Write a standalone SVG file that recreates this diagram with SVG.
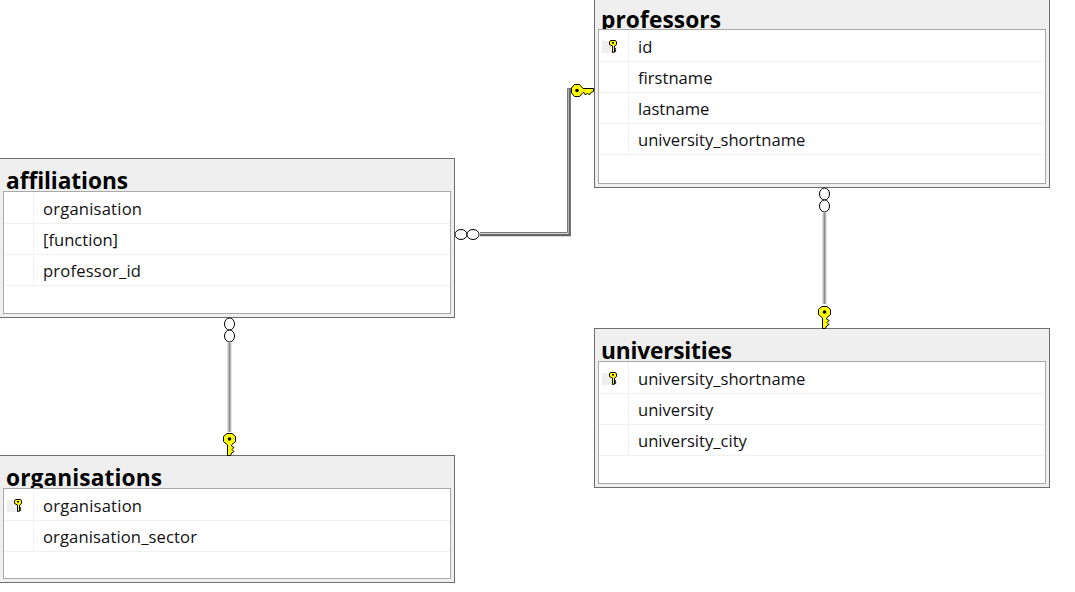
<svg xmlns="http://www.w3.org/2000/svg" xmlns:xlink="http://www.w3.org/1999/xlink" width="1075" height="592" viewBox="0 0 1075 592">
<style>
.outer{fill:#efefef;stroke:#6e6e6e;stroke-width:1}
.inner{fill:#fff;stroke:#a9a9a9;stroke-width:1}
.row{stroke:#f0f0f0;stroke-width:1;fill:none}
.title{font:700 22.7px "Open Sans","Noto Sans",sans-serif;fill:#000}
.col{font:400 16.6px "Open Sans","Noto Sans",sans-serif;fill:#111}
.key{fill:#ffff00;stroke:#000;stroke-width:1}
.ring{fill:#fff;stroke:#000;stroke-width:1}
.cd{fill:none;stroke:#666;stroke-width:2.400}
.cl{fill:none;stroke:#777;stroke-width:1}
.vo{fill:none;stroke:#c8c8c8;stroke-width:4}
.vi{fill:none;stroke:#8a8a8a;stroke-width:1.500}
.keybg{fill:#efefef}
</style>
<defs>
<clipPath id="c1"><rect x="595" y="0" width="454" height="29"/></clipPath>
<clipPath id="c2"><rect x="0" y="158" width="454" height="33"/></clipPath>
<clipPath id="c3"><rect x="595" y="328" width="454" height="33"/></clipPath>
<clipPath id="c4"><rect x="0" y="455" width="454" height="33"/></clipPath>
<g id="bigkey">
<path class="key" d="M-6,-3.500 L-2.500,-6.500 L2.500,-6.500 L6,-3.500 L6,1.500 L2.500,4.500 L2,5 L2,6 L4.500,7.500 L2.500,9.500 L4.500,11.500 L2,13 L1,15.500 L-2,15.500 L-2,5 L-6,1.500 Z"/>
<circle cx="0" cy="-1" r="1.800" fill="#000"/>
</g>
<g id="smallkey">
<rect class="keybg" x="-11" y="-5" width="15" height="12"/>
<path class="key" d="M-2.500,-5.500 L2.500,-5.500 L3.500,-4 L3.500,-1.500 L1.500,0 L1.500,6 L-0.500,6.500 L-0.500,0 L-3.500,-1.500 L-3.500,-4 Z" stroke-width="0.900"/>
<rect x="-1" y="-4" width="2" height="1.500" fill="#000"/>
<path d="M1.500,2 L3,3 L1.500,4 L3,5 L1.500,6" fill="none" stroke="#000" stroke-width="0.800"/>
</g>
</defs>
<rect width="1075" height="592" fill="#fff"/>

<g id="connectors">
<g id="c-aff-prof">
<path class="cd" d="M480,235 H569.700 V89"/>
<path class="cl" d="M480,232.500 H567.500 V88.500 H573"/>
</g>
<g id="c-prof-uni">
<path class="vo" d="M824.500,213 V304"/>
<path class="vi" d="M824.500,213 V304"/>
</g>
<g id="c-aff-org">
<path class="vo" d="M229.500,343 V432"/>
<path class="vi" d="M229.500,343 V432"/>
</g>
</g>

<g id="professors">
<rect class="outer" x="594.500" y="-5" width="455" height="192.500"/>
<text class="title" x="601" y="28" textLength="120" clip-path="url(#c1)">professors</text>
<rect class="inner" x="598.500" y="29.500" width="447" height="154"/>
<path class="row" d="M599,61.500 H1045 M599,92.500 H1045 M599,123.500 H1045 M599,154.500 H1045 M628.500,30 V154"/>
<text class="col" x="638" y="52.500">id</text>
<text class="col" x="638" y="83.500">firstname</text>
<text class="col" x="638" y="114.500">lastname</text>
<text class="col" x="638" y="145.500">university_shortname</text>
<use href="#smallkey" xlink:href="#smallkey" x="613" y="46"/>
</g>

<g id="affiliations">
<rect class="outer" x="-2" y="158.500" width="456.500" height="159"/>
<text class="title" x="6" y="189" textLength="122" clip-path="url(#c2)">affiliations</text>
<rect class="inner" x="3.500" y="191.500" width="447" height="122"/>
<path class="row" d="M4,223.500 H450 M4,254.500 H450 M4,285.500 H450 M33.500,192 V285"/>
<text class="col" x="43" y="214.500" textLength="99">organisation</text>
<text class="col" x="43" y="245.500" textLength="75">[function]</text>
<text class="col" x="43" y="276.500" textLength="98">professor_id</text>
</g>

<g id="universities">
<rect class="outer" x="594.500" y="328.500" width="455" height="159"/>
<text class="title" x="601" y="359" textLength="131" clip-path="url(#c3)">universities</text>
<rect class="inner" x="598.500" y="361.500" width="447" height="122"/>
<path class="row" d="M599,393.500 H1045 M599,424.500 H1045 M599,455.500 H1045 M628.500,362 V455"/>
<text class="col" x="638" y="384.500">university_shortname</text>
<text class="col" x="638" y="415.500">university</text>
<text class="col" x="638" y="446.500">university_city</text>
<use href="#smallkey" xlink:href="#smallkey" x="613" y="378"/>
</g>

<g id="organisations">
<rect class="outer" x="-2" y="455.500" width="456.500" height="127"/>
<text class="title" x="6" y="486" textLength="156" clip-path="url(#c4)">organisations</text>
<rect class="inner" x="3.500" y="488.500" width="447" height="90"/>
<path class="row" d="M4,520.500 H450 M4,551.500 H450 M33.500,489 V551"/>
<text class="col" x="43" y="511.500" textLength="99">organisation</text>
<text class="col" x="43" y="542.500" textLength="154">organisation_sector</text>
<use href="#smallkey" xlink:href="#smallkey" x="18" y="505"/>
</g>

<g id="endpoints">
<ellipse class="ring" cx="461" cy="234.500" rx="6" ry="5"/>
<ellipse class="ring" cx="473" cy="234.500" rx="6" ry="5"/>
<ellipse class="ring" cx="824.500" cy="194" rx="5" ry="6"/>
<ellipse class="ring" cx="824.500" cy="206" rx="5" ry="6"/>
<ellipse class="ring" cx="229.500" cy="324" rx="5" ry="6"/>
<ellipse class="ring" cx="229.500" cy="336" rx="5" ry="6"/>
<use href="#bigkey" xlink:href="#bigkey" x="824.500" y="313"/>
<use href="#bigkey" xlink:href="#bigkey" x="229.500" y="440"/>
<use href="#bigkey" xlink:href="#bigkey" transform="translate(578,90.500) rotate(-90) scale(-1,1)"/>
</g>
</svg>
